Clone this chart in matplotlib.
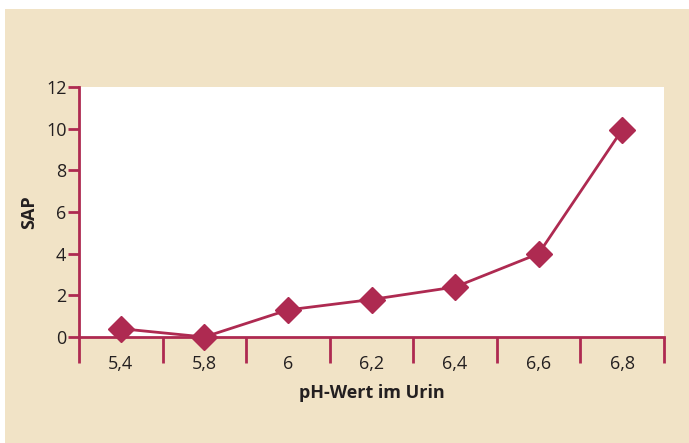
import matplotlib
matplotlib.use("Agg")
import matplotlib.pyplot as plt
from matplotlib.patches import Rectangle
import numpy as np

categories = ["5,4", "5,8", "6", "6,2", "6,4", "6,6", "6,8"]
sap_values = [0.4, 0.0, 1.3, 1.8, 2.4, 4.0, 9.95]
y_ticks = [0, 2, 4, 6, 8, 10, 12]

beige = "#F1E3C6"
crimson = "#AE2A51"
textc = "#231F20"

plt.rcParams['font.family'] = ['Open Sans', 'DejaVu Sans']

W, H = 689, 443
fig = plt.figure(figsize=(W / 100, H / 100), dpi=100)
fig.patch.set_facecolor("white")
fig.patches.append(Rectangle((5 / W, 0), 1 - 5 / W, 1 - 9 / H, transform=fig.transFigure,
                             facecolor=beige, edgecolor="none", zorder=-10))

ax = fig.add_axes([79 / W, (H - 337) / H, (664 - 79) / W, (337 - 87) / H])
ax.set_facecolor("white")

x = np.arange(len(categories))
ax.plot(x, sap_values, color=crimson, lw=2, marker="D", markersize=13,
        markerfacecolor=crimson, markeredgecolor=crimson, clip_on=False, zorder=5)

ax.set_xlim(-0.5, len(categories) - 0.5)
ax.set_ylim(0, 12)
ax.set_yticks(y_ticks)
ax.set_yticklabels([str(v) for v in y_ticks], fontsize=13, color=textc)

ax.set_xticks(np.arange(len(categories) + 1) - 0.5)
ax.set_xticklabels([])
ax.set_xticks(x, minor=True)
ax.set_xticklabels(categories, minor=True, fontsize=13, color=textc)
ax.tick_params(axis="x", which="major", length=19, width=2, color=crimson, direction="out")
ax.tick_params(axis="x", which="minor", length=0, pad=13)
ax.tick_params(axis="y", length=8, width=2, color=crimson, pad=1)

for s in ["top", "right"]:
    ax.spines[s].set_visible(False)
for s in ["left", "bottom"]:
    ax.spines[s].set_color(crimson)
    ax.spines[s].set_linewidth(2)

ax.set_xlabel("pH-Wert im Urin", fontsize=13, fontweight="bold", color=textc, labelpad=8)
ax.set_ylabel("SAP", fontsize=13, fontweight="bold", color=textc, labelpad=6)

fig.savefig("out.png", dpi=100, facecolor=fig.get_facecolor())
